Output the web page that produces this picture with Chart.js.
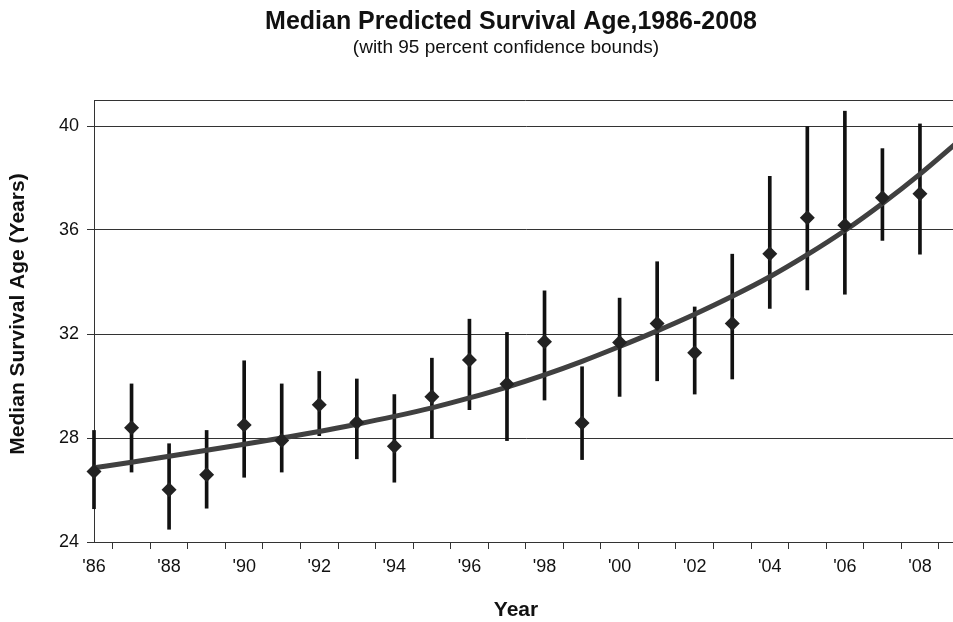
<!DOCTYPE html>
<html>
<head>
<meta charset="utf-8">
<script src="https://cdn.jsdelivr.net/npm/chart.js@4/dist/chart.umd.min.js"></script>
<style>
    html, body { margin: 0; padding: 0; overflow: hidden; background: #fff; }
    canvas { display: block; }
</style>
</head>
<body>
<canvas id="survivalChart" width="965" height="622"></canvas>
<script>
// Dados
const years = [1986, 1987, 1988, 1989, 1990, 1991, 1992, 1993, 1994, 1995, 1996, 1997,
               1998, 1999, 2000, 2001, 2002, 2003, 2004, 2005, 2006, 2007, 2008];
const median = [26.71, 28.39, 26.01, 26.59, 28.50, 27.90, 29.28, 28.60, 27.68, 29.59, 31.00, 30.08,
                31.70, 28.58, 31.67, 32.40, 31.28, 32.40, 35.09, 36.47, 36.18, 37.24, 37.39];
const lower = [25.28, 26.69, 24.49, 25.30, 26.49, 26.69, 28.09, 27.20, 26.30, 27.99, 29.09, 27.90,
               29.46, 27.17, 29.60, 30.20, 29.69, 30.27, 32.98, 33.70, 33.53, 35.60, 35.07];
const upper = [28.29, 30.08, 27.78, 28.29, 30.97, 30.08, 30.56, 30.27, 29.67, 31.07, 32.57, 32.06,
               33.66, 30.74, 33.38, 34.78, 33.04, 35.07, 38.06, 39.98, 40.57, 39.13, 40.08];

// Curva de tendência
const trendYears = [1986, 1987, 1988, 1989, 1990, 1991, 1992, 1993, 1994, 1995, 1996, 1997,
                    1998, 1999, 2000, 2001, 2002, 2003, 2004, 2005, 2006, 2007, 2008, 2009];
const trend = [26.85, 27.07, 27.30, 27.53, 27.76, 28.00, 28.25, 28.53, 28.83, 29.16, 29.54, 29.96,
               30.43, 30.95, 31.52, 32.12, 32.76, 33.45, 34.20, 35.05, 35.98, 37.02, 38.15, 39.38];

const yTicks = [24, 28, 32, 36, 40];
const xLabelYears = [1986, 1988, 1990, 1992, 1994, 1996, 1998, 2000, 2002, 2004, 2006, 2008];

const FONT = '"Liberation Sans", Arial, Helvetica, sans-serif';
const INK = '#111';
const GRID = '#333';

// Títulos e borda superior
const textPlugin = {
    id: 'texts',
    afterDraw(chart) {
        const { ctx, chartArea } = chart;
        ctx.save();
        ctx.strokeStyle = GRID;
        ctx.lineWidth = 1;
        ctx.beginPath();
        ctx.moveTo(chartArea.left, chartArea.top + 0.5);
        ctx.lineTo(chartArea.right, chartArea.top + 0.5);
        ctx.stroke();

        ctx.fillStyle = INK;
        ctx.textAlign = 'center';
        ctx.textBaseline = 'middle';
        ctx.font = 'bold 25px ' + FONT;
        ctx.fillText('Median Predicted Survival Age,1986-2008', 511, 22);
        ctx.font = '19px ' + FONT;
        ctx.fillText('(with 95 percent confidence bounds)', 506, 48);
        ctx.font = 'bold 21px ' + FONT;
        ctx.fillText('Year', 516, 610);
        ctx.translate(18, 314);
        ctx.rotate(-Math.PI / 2);
        ctx.fillText('Median Survival Age (Years)', 0, 0);
        ctx.restore();
    }
};

const ctx = document.getElementById('survivalChart').getContext('2d');
new Chart(ctx, {
    type: 'bar',
    data: {
        datasets: [
            {
                type: 'scatter',
                label: 'Median',
                data: years.map((x, i) => ({ x: x, y: median[i] })),
                pointStyle: 'rectRot',
                pointRadius: 7.5,
                pointHoverRadius: 7.5,
                backgroundColor: '#222',
                borderWidth: 0,
                clip: false,
                order: 1
            },
            {
                type: 'line',
                label: 'Trend',
                data: trendYears.map((x, i) => ({ x: x, y: trend[i] })),
                borderColor: '#404040',
                borderWidth: 5,
                pointRadius: 0,
                cubicInterpolationMode: 'monotone',
                fill: false,
                order: 2
            },
            {
                type: 'bar',
                label: '95% bounds',
                data: years.map((x, i) => ({ x: x, y: [lower[i], upper[i]] })),
                backgroundColor: INK,
                borderWidth: 0,
                barThickness: 3,
                clip: false,
                order: 3
            }
        ]
    },
    options: {
        responsive: false,
        animation: false,
        layout: { padding: { top: 100, left: 0, right: 0, bottom: 0 } },
        plugins: {
            legend: { display: false },
            tooltip: { enabled: false },
            title: { display: false }
        },
        scales: {
            x: {
                type: 'linear',
                min: 1986,
                max: 2009,
                offset: false,
                afterFit: scale => { scale.height = 80; },
                ticks: {
                    stepSize: 1,
                    autoSkip: false,
                    maxRotation: 0,
                    padding: 7,
                    color: INK,
                    font: { family: FONT, size: 18 },
                    callback: v => xLabelYears.includes(v) ? "'" + String(v).slice(2) : ''
                },
                grid: { drawOnChartArea: false, tickLength: 7, color: GRID },
                border: { color: GRID, width: 1 }
            },
            y: {
                min: 24,
                max: 41,
                afterFit: scale => { scale.width = 94; },
                afterBuildTicks: scale => { scale.ticks = yTicks.map(v => ({ value: v })); },
                ticks: {
                    padding: 8,
                    color: INK,
                    font: { family: FONT, size: 18 }
                },
                grid: { color: GRID, tickLength: 7, lineWidth: 1 },
                border: { color: GRID, width: 1 }
            }
        }
    },
    plugins: [textPlugin]
});
</script>
</body>
</html>
